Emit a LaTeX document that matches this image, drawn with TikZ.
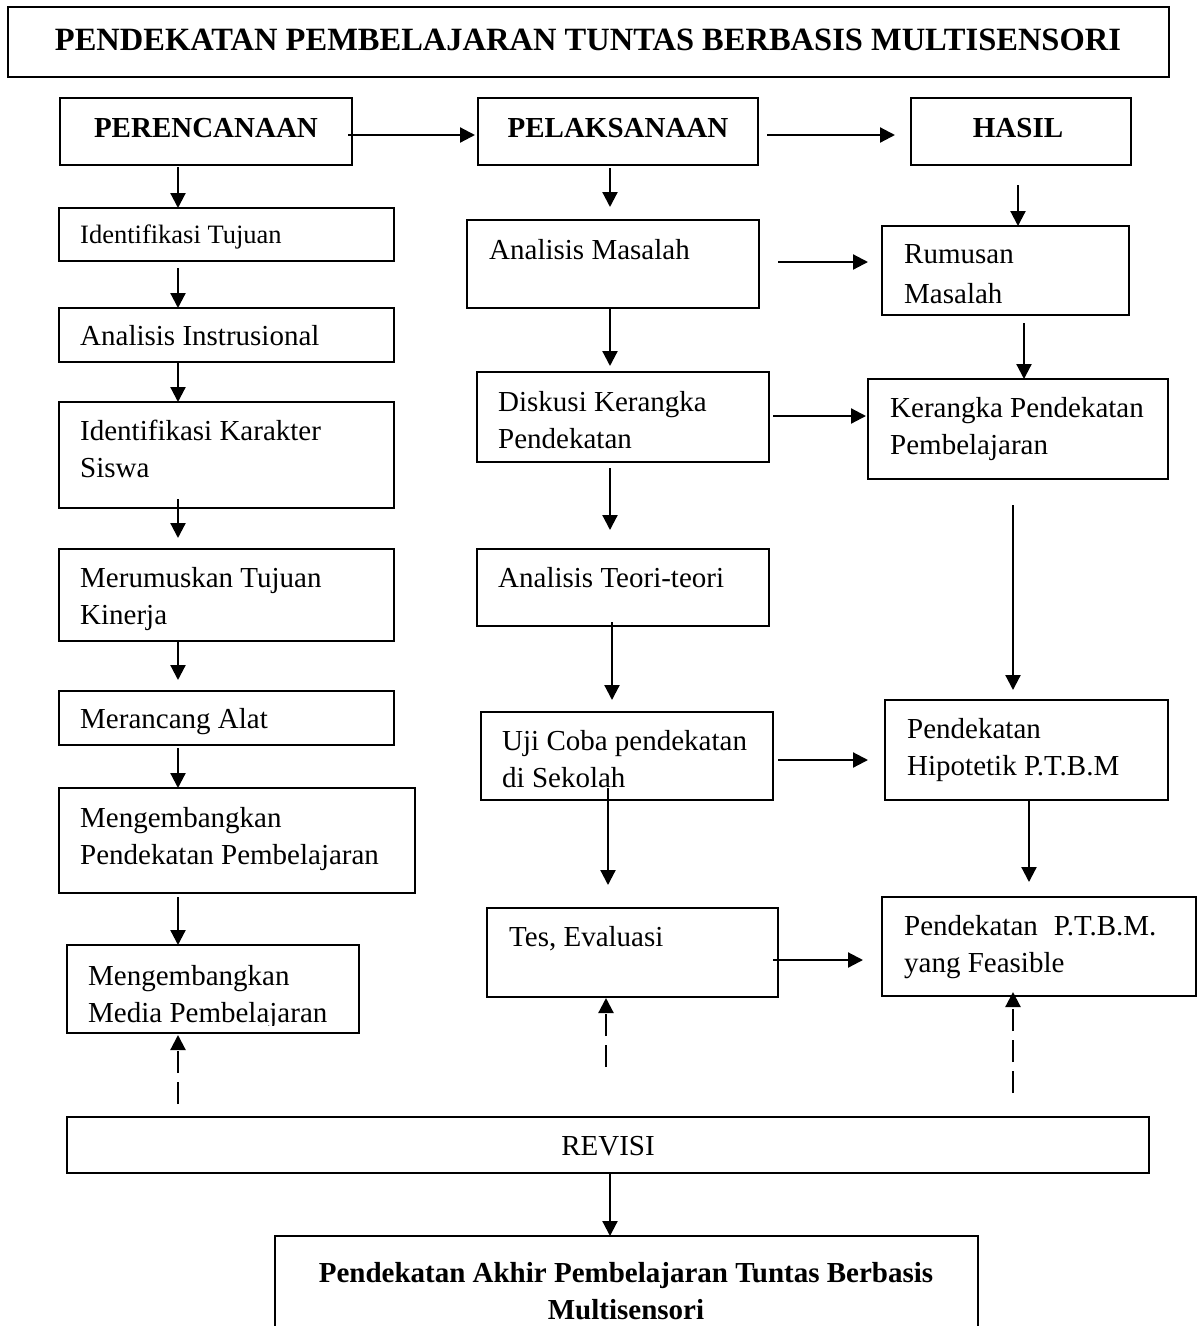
\documentclass[tikz,border=0pt]{standalone}
\usepackage{fontspec}
\setmainfont{Liberation Serif}
\usetikzlibrary{arrows.meta,calc}
\newcommand\llines[1]{\begin{tabular}[t]{@{}l@{}}#1\end{tabular}}
\newcommand\clines[1]{\begin{tabular}[t]{@{}c@{}}#1\end{tabular}}
\frenchspacing
\begin{document}
\begin{tikzpicture}[x=1pt,y=-1pt,
  bx/.style={draw, line width=1.8pt, inner sep=0pt, outer sep=0pt, anchor=north west},
  tl/.style={anchor=base west, inner sep=0pt, font=\fontsize{29}{37}\selectfont},
  tc/.style={anchor=base, inner sep=0pt, font=\fontsize{29}{37}\selectfont},
  arr/.style={line width=2.2pt, -{Triangle[length=15pt,width=15pt]}},
  darr/.style={arr, dash pattern=on 22pt off 9pt}]
\useasboundingbox (0,0) rectangle (1204,1326);
\clip (0,0) rectangle (1204,1326);
% column / row helper coordinates
\coordinate (cL) at (178,0);
\coordinate (cM) at (610,0);
\coordinate (cM2) at (612,0);
\coordinate (cM3) at (608,0);
\coordinate (cM4) at (606,0);
\coordinate (cR1) at (1018,0);
\coordinate (cR2) at (1024,0);
\coordinate (cR3) at (1013,0);
\coordinate (cR4) at (1029,0);
\coordinate (r0) at (0,135);
\coordinate (r1) at (0,262);
\coordinate (r2) at (0,416);
\coordinate (r3) at (0,760);
\coordinate (r4) at (0,960);

% boxes
\node[bx, minimum width=1161pt, minimum height=70pt] (title) at (8,7) {};
\node[bx, minimum width=292pt, minimum height=67pt] (per) at (60,98) {};
\node[bx, minimum width=280pt, minimum height=67pt] (pel) at (478,98) {};
\node[bx, minimum width=220pt, minimum height=67pt] (has) at (911,98) {};
\node[bx, minimum width=335pt, minimum height=53pt] (idt) at (59,208) {};
\node[bx, minimum width=335pt, minimum height=54pt] (ani) at (59,308) {};
\node[bx, minimum width=335pt, minimum height=106pt] (idk) at (59,402) {};
\node[bx, minimum width=335pt, minimum height=92pt] (mer) at (59,549) {};
\node[bx, minimum width=335pt, minimum height=54pt] (mra) at (59,691) {};
\node[bx, minimum width=356pt, minimum height=105pt] (mpp) at (59,788) {};
\node[bx, minimum width=292pt, minimum height=88pt] (mmd) at (67,945) {};
\node[bx, minimum width=292pt, minimum height=88pt] (anm) at (467,220) {};
\node[bx, minimum width=292pt, minimum height=90pt] (dis) at (477,372) {};
\node[bx, minimum width=292pt, minimum height=77pt] (teo) at (477,549) {};
\node[bx, minimum width=292pt, minimum height=88pt] (uji) at (481,712) {};
\node[bx, minimum width=291pt, minimum height=89pt] (tes) at (487,908) {};
\node[bx, minimum width=247pt, minimum height=89pt] (rum) at (882,226) {};
\node[bx, minimum width=300pt, minimum height=100pt] (ker) at (868,379) {};
\node[bx, minimum width=283pt, minimum height=100pt] (hip) at (885,700) {};
\node[bx, minimum width=314pt, minimum height=99pt] (fea) at (882,897) {};
\node[bx, minimum width=1082pt, minimum height=56pt] (rev) at (67,1117) {};
\node[bx, minimum width=703pt, minimum height=120pt] (fin) at (275,1236) {};

% texts
\node[tc, font=\fontsize{32.5}{40}\selectfont\bfseries] (titleT) at (588,50) {PENDEKATAN PEMBELAJARAN TUNTAS BERBASIS MULTISENSORI};
\node[tc, font=\fontsize{29}{37}\selectfont\bfseries] (perT) at (206,137) {PERENCANAAN};
\node[tc, font=\fontsize{29}{37}\selectfont\bfseries] (pelT) at (618,137) {PELAKSANAAN};
\node[tc, font=\fontsize{29}{37}\selectfont\bfseries] (hasT) at (1018,137) {HASIL};
\node[tl, font=\fontsize{26.5}{34}\selectfont] (idtT) at (80,243) {Identifikasi Tujuan};
\node[tl] (aniT) at (80,345) {Analisis Instrusional};
\node[tl] (idkT) at (80,440) {\llines{Identifikasi Karakter\\Siswa}};
\node[tl] (merT) at (80,587) {\llines{Merumuskan Tujuan\\Kinerja}};
\node[tl] (mraT) at (80,728) {Merancang Alat};
\node[tl] (mppT) at (80,827) {\llines{Mengembangkan\\Pendekatan Pembelajaran}};
\begin{scope}
\clip (67,945) rectangle (359,1025);
\node[tl] (mmdT) at (88,985) {\llines{Mengembangkan\\Media Pembelajaran}};
\end{scope}
\node[tl] (anmT) at (489,259) {Analisis Masalah};
\node[tl] (disT) at (498,411) {\llines{Diskusi Kerangka\\Pendekatan}};
\node[tl] (teoT) at (498,587) {Analisis Teori-teori};
\node[tl] (ujiT) at (502,750) {\llines{Uji Coba pendekatan\\di Sekolah}};
\node[tl] (tesT) at (509,946) {Tes, Evaluasi};
\node[tl] (rumT) at (904,263) {\llines{Rumusan\\[3pt]Masalah}};
\node[tl] (kerT) at (890,417) {\llines{Kerangka Pendekatan\\Pembelajaran}};
\node[tl] (hipT) at (907,738) {\llines{Pendekatan\\Hipotetik P.T.B.M}};
\node[tl] (feaT) at (904,935) {\llines{Pendekatan\hspace{0.3em} P.T.B.M.\\yang Feasible}};
\node[tc] (revT) at (608,1155) {REVISI};
\node[tc, font=\fontsize{29}{37}\selectfont\bfseries] (finT) at (626,1282) {\clines{Pendekatan Akhir Pembelajaran Tuntas Berbasis\\Multisensori}};

% left column connectors
\draw[arr] ($(per.south -| cL)+(0,2)$) -- (idt.north -| cL);
\draw[arr] ($(idt.south -| cL)+(0,7)$) -- (ani.north -| cL);
\draw[arr] (ani.south -| cL) -- (idk.north -| cL);
\draw[arr] ($(idk.south -| cL)+(0,-9)$) -- ($(mer.north -| cL)+(0,-11)$);
\draw[arr] (mer.south -| cL) -- ($(mra.north -| cL)+(0,-11)$);
\draw[arr] ($(mra.south -| cL)+(0,3)$) -- (mpp.north -| cL);
\draw[arr] ($(mpp.south -| cL)+(0,4)$) -- (mmd.north -| cL);
\draw[darr] ($(rev.north -| cL)+(0,-13)$) -- ($(mmd.south -| cL)+(0,2)$);

% middle column connectors
\draw[arr] ($(pel.south -| cM)+(0,3)$) -- ($(anm.north -| cM)+(0,-13)$);
\draw[arr] (anm.south -| cM) -- ($(dis.north -| cM)+(0,-6)$);
\draw[arr] ($(dis.south -| cM)+(0,6)$) -- ($(teo.north -| cM)+(0,-19)$);
\draw[arr] ($(teo.south -| cM2)+(0,-4)$) -- ($(uji.north -| cM2)+(0,-12)$);
\draw[arr] ($(uji.south -| cM3)+(0,-12)$) -- ($(tes.north -| cM3)+(0,-23)$);
\draw[darr] ($(rev.north -| cM4)+(0,-50)$) -- ($(tes.south -| cM4)+(0,1)$);

% right column connectors
\draw[arr] ($(has.south -| cR1)+(0,20)$) -- (rum.north -| cR1);
\draw[arr] ($(rum.south -| cR2)+(0,8)$) -- (ker.north -| cR2);
\draw[arr] ($(ker.south -| cR3)+(0,26)$) -- ($(hip.north -| cR3)+(0,-10)$);
\draw[arr] (hip.south -| cR4) -- ($(fea.north -| cR4)+(0,-15)$);
\draw[darr] ($(rev.north -| cR3)+(0,-24)$) -- ($(fea.south -| cR3)+(0,-4)$);

% horizontal connectors
\draw[arr] ($(per.east |- r0)+(-4,0)$) -- ($(pel.west |- r0)+(-3,0)$);
\draw[arr] ($(pel.east |- r0)+(9,0)$) -- ($(has.west |- r0)+(-16,0)$);
\draw[arr] ($(anm.east |- r1)+(19,0)$) -- ($(rum.west |- r1)+(-14,0)$);
\draw[arr] ($(dis.east |- r2)+(4,0)$) -- ($(ker.west |- r2)+(-2,0)$);
\draw[arr] ($(uji.east |- r3)+(5,0)$) -- ($(hip.west |- r3)+(-17,0)$);
\draw[arr] ($(tes.east |- r4)+(-5,0)$) -- ($(fea.west |- r4)+(-19,0)$);

% revisi to final
\draw[arr] (rev.south -| cM) -- (fin.north -| cM);
\end{tikzpicture}
\end{document}
